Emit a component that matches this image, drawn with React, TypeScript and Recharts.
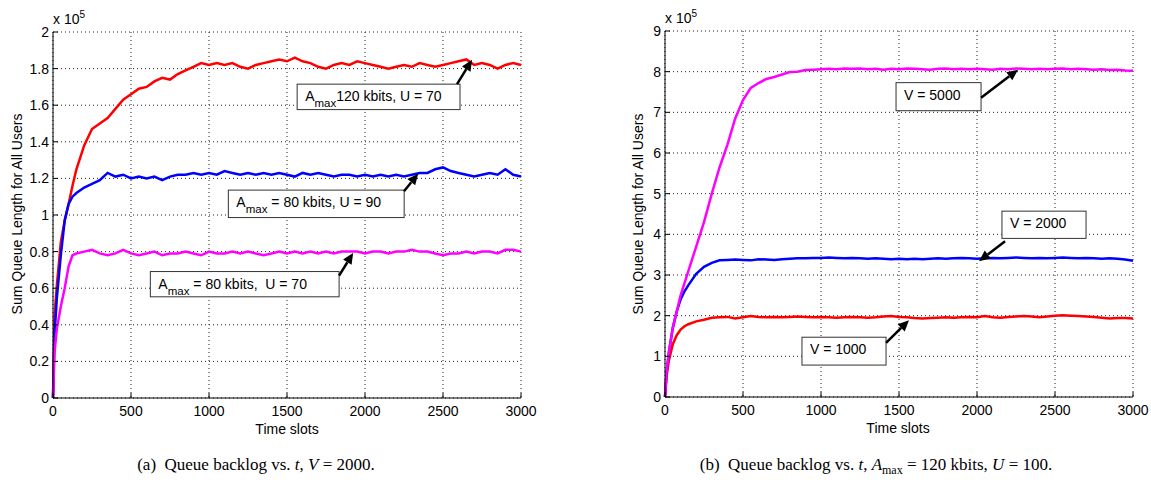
import React from 'react';
import { LineChart, Line, XAxis, YAxis, CartesianGrid, ReferenceArea, ReferenceLine } from 'recharts';

const FONT = '"Liberation Sans", Arial, Helvetica, sans-serif';

// time slots shared by both panels
const timeSlots = [
  0, 10, 25, 50, 75, 100, 125, 150, 200, 250, 300, 350, 400, 450, 500, 550, 600, 650, 700, 750,
  800, 850, 900, 950, 1000, 1050, 1100, 1150, 1200, 1250, 1300, 1350, 1400, 1450, 1500, 1550,
  1600, 1650, 1700, 1750, 1800, 1850, 1900, 1950, 2000, 2050, 2100, 2150, 2200, 2250, 2300,
  2350, 2400, 2450, 2500, 2550, 2600, 2650, 2700, 2750, 2800, 2850, 2900, 2950, 3000,
];

const xTicks = [0, 500, 1000, 1500, 2000, 2500, 3000];
const leftYTicks = [0, 0.2, 0.4, 0.6, 0.8, 1, 1.2, 1.4, 1.6, 1.8, 2];
const rightYTicks = [0, 1, 2, 3, 4, 5, 6, 7, 8, 9];

// (a) values in units of 1e5
const redA = [
  0, 0.45, 0.62, 0.85, 0.97, 1.06, 1.16, 1.25, 1.38, 1.47, 1.5, 1.53, 1.58, 1.63, 1.66, 1.69, 1.7, 1.73, 1.75, 1.74,
  1.77, 1.79, 1.81, 1.83, 1.82, 1.83, 1.82, 1.83, 1.81, 1.8, 1.82, 1.83, 1.84, 1.85, 1.84, 1.86,
  1.84, 1.83, 1.81, 1.8, 1.82, 1.83, 1.82, 1.84, 1.83, 1.82, 1.81, 1.8, 1.81, 1.82, 1.81,
  1.83, 1.82, 1.81, 1.82, 1.83, 1.84, 1.85, 1.82, 1.83, 1.82, 1.8, 1.82, 1.83, 1.82,
];
const blueA = [
  0, 0.35, 0.55, 0.78, 0.97, 1.06, 1.1, 1.12, 1.15, 1.17, 1.19, 1.23, 1.21, 1.22, 1.2, 1.21, 1.2, 1.21, 1.19, 1.21,
  1.22, 1.22, 1.23, 1.22, 1.23, 1.22, 1.24, 1.23, 1.22, 1.23, 1.22, 1.23, 1.22, 1.23, 1.22, 1.21,
  1.23, 1.22, 1.23, 1.22, 1.21, 1.22, 1.22, 1.21, 1.22, 1.21, 1.22, 1.21, 1.22, 1.21, 1.22,
  1.23, 1.23, 1.25, 1.26, 1.24, 1.23, 1.22, 1.21, 1.22, 1.23, 1.22, 1.25, 1.22, 1.21,
];
const magentaA = [
  0, 0.25, 0.38, 0.5, 0.6, 0.72, 0.78, 0.79, 0.8, 0.81, 0.79, 0.78, 0.79, 0.81, 0.79, 0.78, 0.79, 0.8, 0.78, 0.79,
  0.79, 0.8, 0.79, 0.78, 0.8, 0.79, 0.79, 0.8, 0.79, 0.8, 0.79, 0.78, 0.79, 0.8, 0.79, 0.8,
  0.79, 0.8, 0.79, 0.8, 0.79, 0.8, 0.8, 0.8, 0.79, 0.8, 0.8, 0.79, 0.8, 0.8, 0.81,
  0.8, 0.8, 0.79, 0.78, 0.79, 0.79, 0.8, 0.79, 0.8, 0.8, 0.79, 0.81, 0.81, 0.8,
];

// (b) values in units of 1e5
const magentaB = [
  0, 0.6, 1.1, 1.7, 2.1, 2.5, 2.8, 3.1, 3.7, 4.3, 5.0, 5.65, 6.2, 6.85, 7.3, 7.6, 7.72, 7.82, 7.87, 7.93,
  7.99, 8.0, 8.04, 8.05, 8.06, 8.07, 8.06, 8.08, 8.07, 8.08, 8.06, 8.07, 8.05, 8.07, 8.06, 8.08,
  8.07, 8.06, 8.05, 8.07, 8.08, 8.06, 8.07, 8.06, 8.07, 8.06, 8.05, 8.07, 8.06, 8.08, 8.07,
  8.06, 8.07, 8.06, 8.07, 8.08, 8.06, 8.07, 8.06, 8.05, 8.06, 8.04, 8.05, 8.03, 8.02,
];
const blueB = [
  0, 0.6, 1.1, 1.7, 2.1, 2.4, 2.6, 2.75, 3.03, 3.2, 3.3, 3.36, 3.37, 3.38, 3.37, 3.36, 3.39, 3.38, 3.37, 3.39,
  3.4, 3.41, 3.41, 3.42, 3.42, 3.43, 3.42, 3.41, 3.42, 3.41, 3.4, 3.41, 3.4, 3.39, 3.4, 3.39,
  3.4, 3.39, 3.4, 3.41, 3.4, 3.41, 3.42, 3.41, 3.4, 3.41, 3.42, 3.41, 3.42, 3.43, 3.42,
  3.41, 3.42, 3.41, 3.42, 3.43, 3.42, 3.41, 3.42, 3.41, 3.4, 3.41, 3.4, 3.38, 3.35,
];
const redB = [
  0, 0.5, 0.9, 1.3, 1.52, 1.66, 1.74, 1.79, 1.86, 1.9, 1.95, 1.96, 1.97, 1.93, 1.96, 1.99, 1.97, 1.96, 1.97, 1.96,
  1.97, 1.98, 1.97, 1.96, 1.97, 1.96, 1.95, 1.96, 1.97, 1.96, 1.95, 1.96, 1.98, 1.99, 1.97, 1.96,
  1.94, 1.93, 1.94, 1.95, 1.96, 1.95, 1.96, 1.97, 1.96, 1.99, 1.96, 1.95, 1.97, 1.98, 1.99,
  1.98, 1.96, 1.98, 2.0, 2.01, 2.0, 1.99, 1.98, 1.97, 1.95, 1.93, 1.94, 1.94, 1.93,
];

const rowsA = timeSlots.map((t, i) => ({ t, r: redA[i], b: blueA[i], m: magentaA[i] }));
const rowsB = timeSlots.map((t, i) => ({ t, r: redB[i], b: blueB[i], m: magentaB[i] }));

const tickStyle = { fill: '#000', fontSize: 14, fontFamily: FONT };

const Arrow = (props: any) => {
  const { x1, y1, x2, y2 } = props;
  const ang = Math.atan2(y2 - y1, x2 - x1);
  const L = 11, W = 5;
  const bx = x2 - L * Math.cos(ang), by = y2 - L * Math.sin(ang);
  const px = -Math.sin(ang) * W, py = Math.cos(ang) * W;
  return (
    <g>
      <line x1={x1} y1={y1} x2={bx} y2={by} stroke="#000" strokeWidth={2.5} />
      <polygon points={`${x2},${y2} ${bx + px},${by + py} ${bx - px},${by - py}`} fill="#000" />
    </g>
  );
};

const boxShape = (parts: [string, string, string]) => (props: any) => {
  const { x, y, width, height } = props;
  return (
    <g>
      <rect x={x} y={y} width={width} height={height} fill="#fff" stroke="#333" strokeWidth={1} />
      <text x={x + 8} y={y + 17} fontSize={14} fontFamily={FONT} fill="#000" style={{ whiteSpace: 'pre' }}>
        {parts[0]}
        {parts[1] ? <tspan fontSize={11.5} dy={6}>{parts[1]}</tspan> : null}
        <tspan dy={parts[1] ? -6 : 0}>{parts[2]}</tspan>
      </text>
    </g>
  );
};

const frameAxes = (yTicks: number[], yMax: number) => [
  <XAxis key="xt" xAxisId="top" orientation="top" dataKey="t" type="number" domain={[0, 3000]} ticks={xTicks}
    height={0} tickSize={-5} tickFormatter={() => ''} stroke="#000" />,
  <YAxis key="yr" yAxisId="right" orientation="right" type="number" domain={[0, yMax]} ticks={yTicks}
    width={0} tickSize={-5} tickFormatter={() => ''} stroke="#000" />,
];

const Panel: React.FC<{ rows: any[]; yTicks: number[]; yMax: number; top: number; children?: React.ReactNode }> = ({ rows, yTicks, yMax, top, children }) => (
  <LineChart width={560} height={440} data={rows} margin={{ top, right: 39, left: 0, bottom: 54 - top }}>
    <CartesianGrid stroke="#222" strokeDasharray="1 3" />
    <XAxis dataKey="t" type="number" domain={[0, 3000]} ticks={xTicks} height={20} tickSize={-5} tickMargin={13}
      tick={tickStyle} stroke="#000" />
    <YAxis type="number" domain={[0, yMax]} ticks={yTicks} width={53} tickSize={-5} tickMargin={9}
      tick={tickStyle} stroke="#000" />
    {frameAxes(yTicks, yMax)}
    <Line type="linear" dataKey="r" stroke="#ff0000" strokeWidth={2.5} dot={false} isAnimationActive={false} />
    <Line type="linear" dataKey="b" stroke="#0000ff" strokeWidth={2.5} dot={false} isAnimationActive={false} />
    <Line type="linear" dataKey="m" stroke="#ff00ff" strokeWidth={2.5} dot={false} isAnimationActive={false} />
    {children}
  </LineChart>
);

const outerText: React.CSSProperties = { position: 'absolute', fontFamily: FONT, fontSize: 14, color: '#000', whiteSpace: 'nowrap' };
const caption: React.CSSProperties = { position: 'absolute', fontFamily: '"Liberation Serif", "Times New Roman", serif', fontSize: 17, color: '#000', whiteSpace: 'nowrap', top: 455 };

export default function App() {
  return (
    <div style={{ position: 'absolute', left: 0, top: 0, width: 1151, height: 486, background: '#fff', overflow: 'hidden' }}>
      <div style={{ position: 'absolute', left: 0, top: 0 }}>
        <Panel rows={rowsA} yTicks={leftYTicks} yMax={2} top={32}>
          <ReferenceLine segment={[{ x: 2590, y: 1.715 }, { x: 2686, y: 1.848 }]} shape={Arrow} />
          <ReferenceArea x1={1565} x2={2609} y1={1.576} y2={1.715} shape={boxShape(['A', 'max', '120 kbits, U = 70'])} />
          <ReferenceLine segment={[{ x: 2250, y: 1.13 }, { x: 2341, y: 1.226 }]} shape={Arrow} />
          <ReferenceArea x1={1124} x2={2251} y1={0.986} y2={1.136} shape={boxShape(['A', 'max', ' = 80 kbits, U = 90'])} />
          <ReferenceLine segment={[{ x: 1834, y: 0.669 }, { x: 1924, y: 0.793 }]} shape={Arrow} />
          <ReferenceArea x1={624} x2={1834} y1={0.553} y2={0.691} shape={boxShape(['A', 'max', ' = 80 kbits,  U = 70'])} />
        </Panel>
      </div>
      <div style={{ position: 'absolute', left: 612, top: 0 }}>
        <Panel rows={rowsB} yTicks={rightYTicks} yMax={9} top={31}>
          <ReferenceLine segment={[{ x: 2026, y: 7.36 }, { x: 2263, y: 8.05 }]} shape={Arrow} />
          <ReferenceArea x1={1481} x2={2026} y1={7.04} y2={7.73} shape={boxShape(['V = 5000', '', ''])} />
          <ReferenceLine segment={[{ x: 2180, y: 3.83 }, { x: 2013, y: 3.34 }]} shape={Arrow} />
          <ReferenceArea x1={2160} x2={2699} y1={3.9} y2={4.57} shape={boxShape(['V = 2000', '', ''])} />
          <ReferenceLine segment={[{ x: 1417, y: 1.33 }, { x: 1564, y: 1.89 }]} shape={Arrow} />
          <ReferenceArea x1={878} x2={1417} y1={0.785} y2={1.47} shape={boxShape(['V = 1000', '', ''])} />
        </Panel>
      </div>

      <div style={{ ...outerText, left: 53, top: 9 }}>x 10<sup style={{ fontSize: 10 }}>5</sup></div>
      <div style={{ ...outerText, left: 665, top: 8 }}>x 10<sup style={{ fontSize: 10 }}>5</sup></div>

      <div style={{ ...outerText, left: 17, top: 214, transform: 'translate(-50%, -50%) rotate(-90deg)' }}>Sum Queue Length for All Users</div>
      <div style={{ ...outerText, left: 638, top: 214, transform: 'translate(-50%, -50%) rotate(-90deg)' }}>Sum Queue Length for All Users</div>

      <div style={{ ...outerText, left: 287, top: 421, transform: 'translateX(-50%)' }}>Time slots</div>
      <div style={{ ...outerText, left: 898, top: 420, transform: 'translateX(-50%)' }}>Time slots</div>

      <div style={{ ...caption, left: 256, transform: 'translateX(-50%)' }}>
        (a)&nbsp; Queue backlog vs. <i>t</i>, <i>V</i> = 2000.
      </div>
      <div style={{ ...caption, left: 876, transform: 'translateX(-50%)' }}>
        (b)&nbsp; Queue backlog vs. <i>t</i>, <i>A</i><sub style={{ fontSize: 12 }}>max</sub> = 120 kbits, <i>U</i> = 100.
      </div>
    </div>
  );
}
